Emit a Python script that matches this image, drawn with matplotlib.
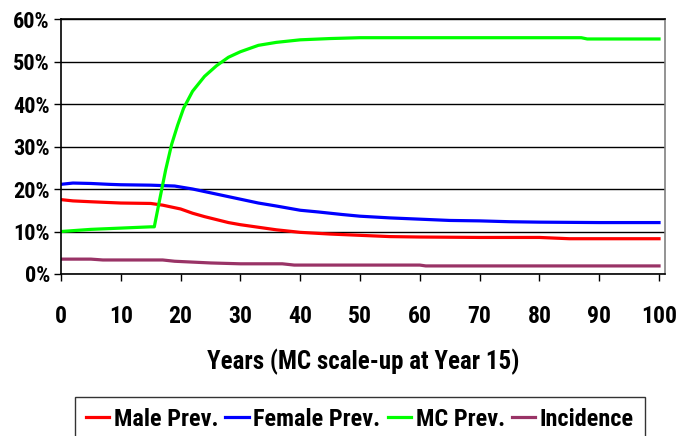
import matplotlib
matplotlib.use("Agg")
import matplotlib.pyplot as plt
from matplotlib.ticker import PercentFormatter

plt.rcParams['font.family'] = ['Roboto Condensed', 'DejaVu Sans']
plt.rcParams['font.weight'] = 'bold'

# Datos (anio, porcentaje)
male_years = [0, 2, 5, 10, 15, 17, 20, 22, 24, 26, 28, 30, 33, 36, 40, 45, 50, 55, 60, 70, 80, 85, 90, 100]
male_vals = [17.5, 17.2, 17.0, 16.7, 16.6, 16.2, 15.3, 14.3, 13.5, 12.8, 12.1, 11.6, 11.0, 10.4, 9.8, 9.4, 9.1, 8.8, 8.7, 8.6, 8.6, 8.3, 8.3, 8.3]

female_years = [0, 2, 5, 8, 10, 15, 19, 22, 25, 28, 30, 33, 36, 40, 43, 47, 50, 55, 60, 65, 70, 75, 80, 90, 100]
female_vals = [21.1, 21.4, 21.3, 21.1, 21.0, 20.9, 20.7, 20.0, 19.1, 18.2, 17.6, 16.7, 16.0, 15.0, 14.6, 14.0, 13.6, 13.2, 12.9, 12.6, 12.5, 12.3, 12.2, 12.1, 12.1]

mc_years = [0, 5, 10, 15, 15.6, 16.5, 17.5, 18.5, 19.5, 20.5, 22, 24, 26, 28, 30, 33, 36, 40, 45, 50, 60, 70, 80, 87, 88, 90, 100]
mc_vals = [10.0, 10.5, 10.8, 11.1, 11.1, 17.5, 24.5, 30.5, 35.0, 39.0, 43.0, 46.5, 49.0, 51.0, 52.3, 53.8, 54.5, 55.1, 55.4, 55.6, 55.6, 55.6, 55.6, 55.6, 55.3, 55.3, 55.3]

inc_years = [0, 5, 7, 17, 19, 22, 25, 30, 37, 39, 60, 61, 100]
inc_vals = [3.5, 3.5, 3.3, 3.3, 3.0, 2.8, 2.6, 2.4, 2.4, 2.1, 2.1, 1.9, 1.9]

x_ticks = [0, 10, 20, 30, 40, 50, 60, 70, 80, 90, 100]
y_ticks = [0, 10, 20, 30, 40, 50, 60]

fig = plt.figure(figsize=(6.8, 4.36), dpi=100)
ax = fig.add_axes([61 / 680, 1 - 274 / 436, 604 / 680, 255 / 436])

ax.plot(male_years, male_vals, color='#ff0000', lw=2.3, label='Male Prev.')
ax.plot(female_years, female_vals, color='#0000ff', lw=2.3, label='Female Prev.')
ax.plot(mc_years, mc_vals, color='#00ff00', lw=2.3, label='MC Prev.')
ax.plot(inc_years, inc_vals, color='#993366', lw=2.3, label='Incidence')

ax.set_xlim(0, 101)
ax.set_ylim(0, 60)
ax.set_xticks(x_ticks)
ax.set_yticks(y_ticks)
ax.yaxis.set_major_formatter(PercentFormatter(decimals=0))
ax.grid(axis='y', color='black', lw=1)
ax.tick_params(length=5, width=1, direction='out')
ax.tick_params(axis='x', labelsize=17, pad=17)
ax.tick_params(axis='y', labelsize=16, pad=3)
for s in ax.spines.values():
    s.set_linewidth(1.2)
ax.spines['right'].set_color('#808080')

ax.set_xlabel('Years (MC scale-up at Year 15)', fontsize=18, fontweight='bold', labelpad=15)

leg = fig.legend(loc='upper left', bbox_to_anchor=(75 / 680, 1 - 397 / 436), ncol=4, fontsize=17.5,
                 frameon=True, fancybox=False, edgecolor='black', handlelength=0.95,
                 handletextpad=0.2, columnspacing=0.29, borderpad=0.45, borderaxespad=0)
leg.get_frame().set_linewidth(1)

fig.savefig('out.png', dpi=100)
